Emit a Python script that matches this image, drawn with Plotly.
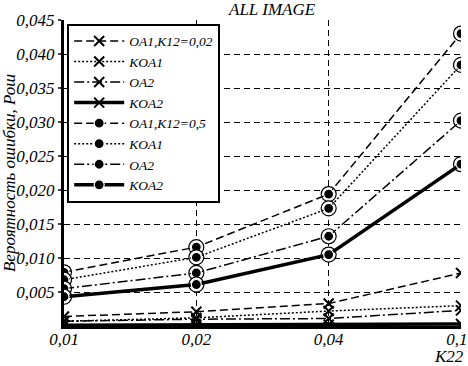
import plotly.graph_objects as go

k22_labels = ["0,01", "0,02", "0,04", "0,1\u00a0\u00a0"]
x_pos = [0, 1, 2, 3]

# crosses: K12 = 0.02
oa1_k002 = [0.0014, 0.0021, 0.0033, 0.0078]
koa1_k002 = [0.0007, 0.0012, 0.0022, 0.0030]
oa2_k002 = [0.0007, 0.0010, 0.0011, 0.0023]
koa2_k002 = [0.0001, 0.0002, 0.0002, 0.0003]

# circles: K12 = 0.5
oa1_k05 = [0.0079, 0.0116, 0.0194, 0.0430]
koa1_k05 = [0.0068, 0.0101, 0.0173, 0.0384]
oa2_k05 = [0.0055, 0.0078, 0.0132, 0.0302]
koa2_k05 = [0.0043, 0.0061, 0.0105, 0.0238]

names = ["OA1,K12=0,02", "KOA1", "OA2", "KOA2", "OA1,K12=0,5", "KOA1", "OA2", "KOA2"]
series = [oa1_k002, koa1_k002, oa2_k002, koa2_k002, oa1_k05, koa1_k05, oa2_k05, koa2_k05]
dashes = ["8px,4px", "2px,2px", "10px,3px,2px,3px", "solid"] * 2
widths = [1.5, 1.5, 1.5, 3.5] * 2

FONT = "Liberation Serif, Times New Roman, DejaVu Serif, serif"
fig = go.Figure()

for i, (nm, ys) in enumerate(zip(names, series)):
    if i < 4:
        fig.add_trace(go.Scatter(
            x=x_pos, y=ys, name=nm, mode="lines+markers",
            line=dict(color="black", width=widths[i], dash=dashes[i]),
            marker=dict(symbol="x-thin", size=10, color="black",
                        line=dict(color="black", width=2)),
        ))
    else:
        fig.add_trace(go.Scatter(
            x=x_pos, y=ys, mode="markers", showlegend=False, hoverinfo="skip",
            marker=dict(symbol="circle", size=15, color="white",
                        line=dict(color="black", width=1.2)),
        ))
        fig.add_trace(go.Scatter(
            x=x_pos, y=ys, name=nm, mode="lines+markers",
            line=dict(color="black", width=widths[i], dash=dashes[i]),
            marker=dict(symbol="circle", size=10, color="black",
                        line=dict(color="white", width=1.2)),
        ))

fig.update_layout(
    width=468, height=366,
    margin=dict(l=64, r=7, t=20, b=40, autoexpand=False),
    paper_bgcolor="white", plot_bgcolor="white",
    separators=", ",
    font=dict(family=FONT, size=17, color="black", style="italic"),
    showlegend=True,
    legend=dict(
        x=0.008, y=0.988, xanchor="left", yanchor="top",
        bgcolor="white", bordercolor="black", borderwidth=2,
        font=dict(family=FONT, size=13.5, style="italic"),
        tracegroupgap=0, itemwidth=50,
    ),
    xaxis=dict(
        range=[0, 3], tickvals=x_pos, ticktext=k22_labels,
        showgrid=True, gridcolor="black", griddash="6px,4px", gridwidth=1,
        showline=True, linecolor="black", linewidth=3,
        zeroline=False, ticks="", automargin=False,
        ticklabeloverflow="allow", ticklabelstandoff=-4,
        tickfont=dict(family=FONT, size=17, style="italic"),
    ),
    yaxis=dict(
        range=[0, 0.045], tickvals=[0.005 * k for k in range(1, 10)],
        tickformat=".3f", automargin=False,
        showgrid=True, gridcolor="black", griddash="6px,4px", gridwidth=1,
        showline=True, linecolor="black", linewidth=3,
        zeroline=False, ticks="outside", ticklen=3, tickwidth=2,
        tickfont=dict(family=FONT, size=17, style="italic"),
        title=dict(text="Вероятность ошибки, Рош", standoff=2,
                   font=dict(family=FONT, size=17, style="italic")),
    ),
    annotations=[
        dict(text="ALL IMAGE", x=(272 - 64) / (461 - 64), y=1.0, xref="paper", yref="paper",
             xanchor="center", yanchor="bottom", yshift=-1, showarrow=False,
             font=dict(family=FONT, size=17, style="italic")),
        dict(text="K22", x=1.0, y=0, xref="paper", yref="paper",
             xanchor="right", yanchor="top", yshift=-19, xshift=5, showarrow=False,
             font=dict(family=FONT, size=17, style="italic")),
    ],
)

fig.write_html("out.html", config={"displayModeBar": False},
               post_script="document.body.style.margin='0';")
